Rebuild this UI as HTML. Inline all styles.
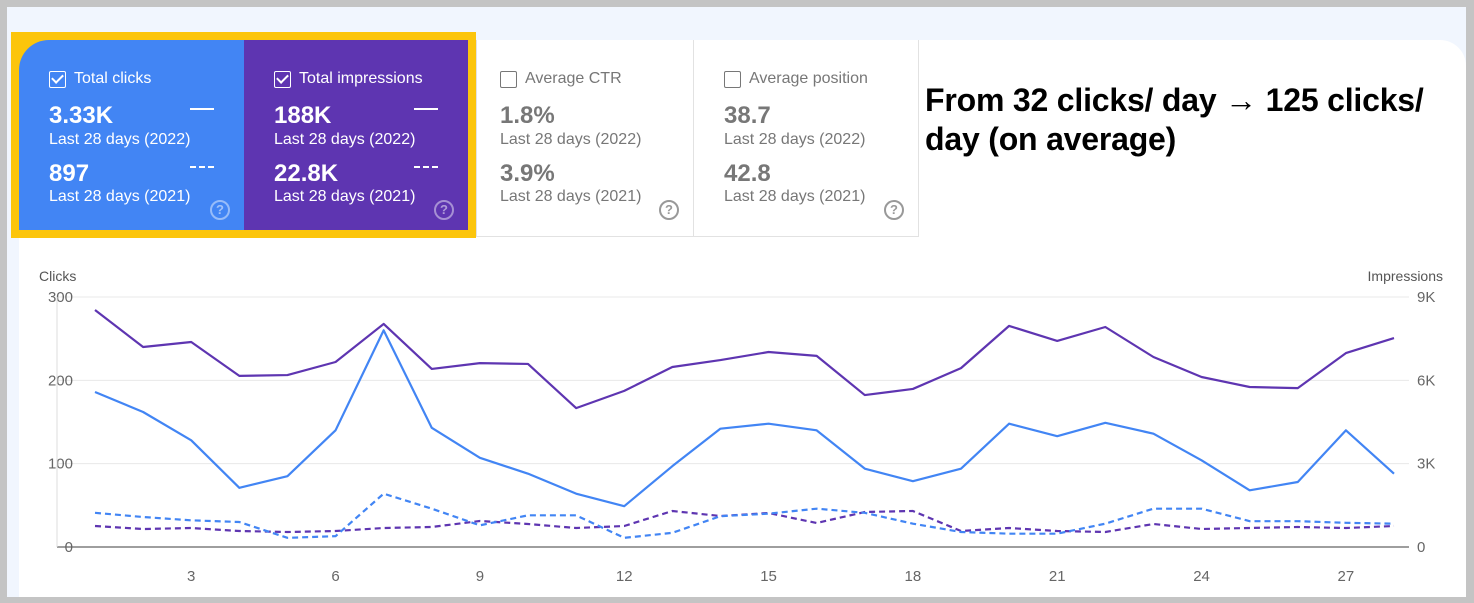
<!DOCTYPE html>
<html><head><meta charset="utf-8"><style>
*{margin:0;padding:0;box-sizing:border-box}
body{width:1474px;height:603px;background:#c4c4c4;position:relative;overflow:hidden;font-family:"Liberation Sans",sans-serif}
.bg{position:absolute;left:7px;top:7px;width:1459px;height:590px;background:#f1f6fe}
.white{position:absolute;left:19px;top:40px;width:1447px;height:557px;background:#fff;border-top-right-radius:26px;border-top-left-radius:30px}
.yellow{position:absolute;left:11px;top:32px;width:465px;height:206px;background:#fcc50c}
.card{position:absolute;top:40px;height:190px;width:225px;color:#fff}
.card .t{position:absolute;left:30px;top:30px;font-size:16px;display:flex;align-items:center}
.cb{width:17px;height:17px;border:1.5px solid #fff;border-radius:2px;margin-right:8px;position:relative}
.cb::after{content:"";position:absolute;left:4px;top:0px;width:5px;height:9px;border-right:2px solid #fff;border-bottom:2px solid #fff;transform:rotate(45deg)}
.cb.off{border-color:#777}.cb.off::after{display:none}
.v{position:absolute;left:30px;font-size:24px;font-weight:bold}
.s{position:absolute;left:30px;font-size:16px}
.q{position:absolute;right:14px;bottom:10px;width:20px;height:20px;border:2px solid rgba(255,255,255,.45);border-radius:50%;font-size:13px;font-weight:bold;text-align:center;line-height:16px;color:rgba(255,255,255,.5)}
.grey{color:#777;background:#fff;border:1px solid #e2e2e2;border-top:none;height:197px}
.grey .v{color:#777}.grey .q{border-color:#999;color:#999}
.ln{position:absolute;right:30px;width:24px;border-top:2px solid #fff}
.ln.d{border-top:2px dashed #fff}
.head{position:absolute;left:925px;top:81px;font-size:32px;font-weight:bold;color:#000;line-height:39px;width:535px;letter-spacing:-0.2px}
</style></head><body>
<div class="bg"></div>
<div class="white"></div>
<div class="yellow"></div>
<div class="card" style="left:19px;background:#4285f4;border-top-left-radius:30px">
 <div class="t"><span class="cb"></span>Total clicks</div>
 <div class="ln" style="top:68px"></div><div class="v" style="top:62px">3.33K</div><div class="s" style="top:91px">Last 28 days (2022)</div>
 <div class="ln d" style="top:126px"></div><div class="v" style="top:120px">897</div><div class="s" style="top:148px">Last 28 days (2021)</div>
 <div class="q">?</div></div>
<div class="card" style="left:244px;background:#5e35b1;width:224px">
 <div class="t"><span class="cb"></span>Total impressions</div>
 <div class="ln" style="top:68px"></div><div class="v" style="top:62px">188K</div><div class="s" style="top:91px">Last 28 days (2022)</div>
 <div class="ln d" style="top:126px"></div><div class="v" style="top:120px">22.8K</div><div class="s" style="top:148px">Last 28 days (2021)</div>
 <div class="q">?</div></div>
<div class="card grey" style="left:476px;width:218px">
 <div class="t" style="left:23px"><span class="cb off"></span>Average CTR</div>
 <div class="v" style="top:62px;left:23px">1.8%</div><div class="s" style="top:91px;left:23px">Last 28 days (2022)</div>
 <div class="v" style="top:120px;left:23px">3.9%</div><div class="s" style="top:148px;left:23px">Last 28 days (2021)</div>
 <div class="q" style="bottom:16px">?</div></div>
<div class="card grey" style="left:693px;width:226px">
 <div class="t" style="left:30px"><span class="cb off"></span>Average position</div>
 <div class="v" style="top:62px">38.7</div><div class="s" style="top:91px">Last 28 days (2022)</div>
 <div class="v" style="top:120px">42.8</div><div class="s" style="top:148px">Last 28 days (2021)</div>
 <div class="q" style="bottom:16px">?</div></div>
<div class="head">From 32 clicks/ day → 125 clicks/ day (on average)</div>
<svg id="chart" width="1474" height="603" style="position:absolute;left:0;top:0"></svg>
<script>
const days=[1,2,3,4,5,6,7,8,9,10,11,12,13,14,15,16,17,18,19,20,21,22,23,24,25,26,27,28];
const xTicks=[3,6,9,12,15,18,21,24,27];
const clickTicks=[0,100,200,300];
const imprTicks=[0,3000,6000,9000];
const imprTickLabels=["0","3K","6K","9K"];
const clicks2022=[186,162,128,71,85,140,260,143,107,88,64,49,97,142,148,140,94,79,94,148,133,149,136,104,68,78,140,88];
const impr2022=[8530,7200,7380,6160,6190,6660,8030,6410,6620,6590,5000,5620,6480,6730,7020,6880,5470,5690,6440,7960,7420,7920,6840,6120,5760,5720,6980,7520];
const clicks2021=[41,36,32,30,11,13,64,46,26,38,38,11,17,37,40,46,41,28,18,16,16,28,46,46,31,31,29,28];
const impr2021=[756,648,684,576,540,576,684,720,936,828,684,756,1296,1116,1224,864,1260,1296,576,684,576,540,828,648,684,720,684,756];
const NS="http://www.w3.org/2000/svg",svg=document.getElementById('chart');
const L=57,R=1409,T=297,B=547;
const x=d=>95+(d-1)*(1394-95)/27;
const yc=v=>B-(v/300)*(B-T);
const yi=v=>B-(v/9000)*(B-T);
function mk(tag,a){const e=document.createElementNS(NS,tag);for(const k in a)e.setAttribute(k,a[k]);svg.appendChild(e);return e;}
clickTicks.forEach((t,i)=>{
 const g=mk('line',{x1:L,x2:R,y1:yc(t),y2:yc(t),stroke:t===0?'#9e9e9e':'#e8e8e8','stroke-width':t===0?2:1});
 
 
 const tl=mk('text',{x:73,y:yc(t)+5,'text-anchor':'end','font-size':15,fill:'#666','font-family':'Liberation Sans'});tl.textContent=t;
 
 
 const tr=mk('text',{x:1417,y:yi(imprTicks[i])+5,'font-size':15,fill:'#666','font-family':'Liberation Sans'});tr.textContent=imprTickLabels[i];
 
 
});
const al=mk('line',{x1:L,x2:L,y1:T,y2:B,stroke:'#ddd'});


xTicks.forEach(d=>{const t=mk('text',{x:x(d),y:581,'text-anchor':'middle','font-size':15,fill:'#666','font-family':'Liberation Sans'});t.textContent=d;
 
 });
const yt=mk('text',{x:39,y:281,'font-size':14,fill:'#555','font-family':'Liberation Sans'});yt.textContent='Clicks';


const yt2=mk('text',{x:1443,y:281,'text-anchor':'end','font-size':14,fill:'#555','font-family':'Liberation Sans'});yt2.textContent='Impressions';


function line(vals,yf,col,dash,name){const p=mk('polyline',{points:vals.map((v,i)=>x(days[i])+','+yf(v)).join(' '),fill:'none',stroke:col,'stroke-width':2.2,'stroke-dasharray':dash||'none','stroke-linejoin':'round'});
 
 }
line(impr2021,yi,'#5e35b1','6,4','impressions-2021-line');
line(clicks2021,yc,'#4285f4','6,4','clicks-2021-line');
line(impr2022,yi,'#5e35b1',null,'impressions-2022-line');
line(clicks2022,yc,'#4285f4',null,'clicks-2022-line');
</script>
</body></html>
